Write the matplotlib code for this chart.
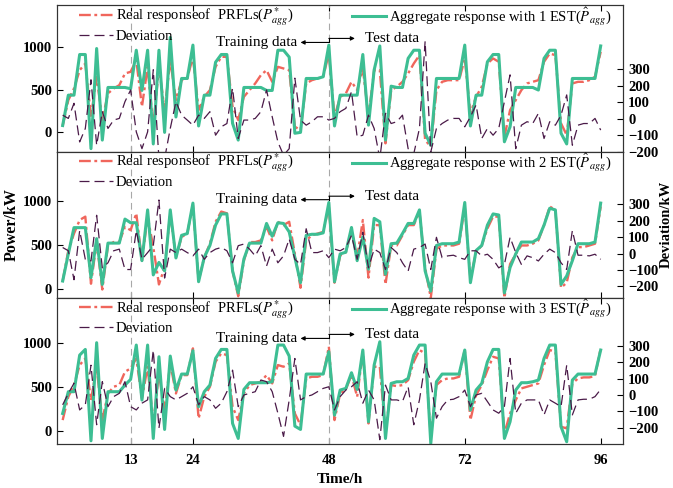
import numpy as np
import matplotlib
matplotlib.use('Agg')
from matplotlib import pyplot as plt

plt.rcParams['font.family'] = ['Liberation Serif', 'DejaVu Serif']
plt.rcParams['mathtext.fontset'] = 'stix'

hours = np.arange(1, 97)

# panel 1 (1 EST)
real1 = [80, 377, 513, 727, 805, 183, 650, 144, 455, 513, 552, 688, 708, 844, 300, 766, 66, 766, 260, 844, 377, 610, 630, 883,
         260, 416, 494, 766, 883, 883, 300, 144, 416, 494, 572, 669, 727, 591, 766, 747, 727, 66, 27, 572, 610, 630, 650, 922,
         183, 416, 455, 591, 494, 747, 183, 727, 727, -128, 494, 533, 591, 688, 805, 902, -89, -167, 494, 591, 610, 610, 610, 864,
         222, 416, 533, 805, 864, 825, -51, 260, 377, 494, 572, 591, 610, 825, 922, 902, 105, -31, 572, 591, 591, 610, 650, 941]
est1 = [80, 435, 435, 910, 910, -190, 980, -90, 525, 525, 525, 525, 510, 960, 490, 960, -135, 960, 0, 1110, 180, 630, 630, 1020,
        75, 435, 435, 820, 910, 910, 105, -90, 525, 525, 525, 525, 490, 490, 960, 960, 880, -10, 0, 630, 630, 630, 650, 1020,
        75, 435, 435, 435, 435, 910, 85, 730, 1010, -90, 540, 525, 525, 865, 960, 960, -10, -150, 630, 630, 630, 630, 630, 1020,
        75, 435, 435, 825, 910, 910, -110, 65, 525, 525, 525, 525, 495, 865, 960, 960, -10, -135, 630, 630, 630, 630, 630, 1010]
dev1 = [22, 2, 94, -141, -59, 237, -161, 43, -59, -8, 2, 104, 175, -80, -182, -80, 298, -243, -243, -59, 104, 22, -8, -39,
        22, 2, 43, -100, -49, -29, 186, -120, -8, -8, 2, 43, 175, 12, -141, -222, -182, 247, -8, -39, -18, 12, 12, -8,
        2, 43, 63, 165, -110, -100, 22, -59, -243, 33, -29, -18, 22, -182, -212, -59, 471, -202, -59, -29, -8, 2, 2, -49,
        12, 84, -120, -59, -100, -59, 104, 267, -182, -39, -18, -29, 33, -120, -18, -39, 22, 145, -161, -39, -29, -29, 2, -69]

# panel 2 (2 EST)
real2 = [89, 438, 632, 787, 826, 58, 535, -8, 496, 535, 535, 709, 671, 864, 322, 826, 477, 50, 244, 864, 360, 593, 632, 961,
         89, 360, 516, 767, 884, 864, 205, -85, 322, 535, 535, 554, 709, 554, 767, 729, 767, 399, 12, 554, 612, 632, 651, 942,
         70, 380, 419, 671, 360, 787, 128, 729, 729, 50, 496, 496, 612, 729, 729, 884, 244, -105, 457, 496, 496, 496, 516, 942,
         109, 419, 496, 690, 826, 826, -105, 283, 399, 496, 496, 516, 554, 729, 942, 903, 12, 70, 360, 477, 477, 496, 516, 942]
est2 = [89, 400, 700, 700, 700, 128, 574, 50, 523, 523, 523, 798, 756, 756, 322, 903, 159, 302, 205, 903, 353, 612, 632, 981,
        81, 360, 496, 729, 857, 857, 205, -47, 341, 523, 523, 523, 748, 601, 756, 748, 651, 360, 70, 612, 624, 624, 640, 988,
        81, 399, 419, 702, 322, 593, 225, 806, 767, 167, 516, 523, 632, 748, 748, 903, 205, -27, 496, 516, 516, 516, 535, 988,
        70, 438, 496, 729, 857, 845, -47, 244, 399, 535, 535, 535, 574, 729, 922, 903, 50, 147, 322, 516, 516, 516, 535, 981]
dev2 = [37, 17, -159, 140, -35, -45, 233, -87, -56, 17, 27, -97, -97, 140, -35, 6, 48, 326, -149, 27, 6, 27, 6, -14,
        27, -35, 6, 27, 37, 17, -56, 48, 58, 27, -14, 48, -76, 27, -56, -14, 89, -35, -66, 151, 6, 6, 17, -25,
        27, 17, 37, 110, -35, 130, -87, 27, 6, -97, 37, 6, -56, -107, 27, 37, 58, -97, 99, -25, -14, -10, -25, -35,
        17, 17, -14, -4, -35, -87, -66, 99, 6, -66, -14, -25, -45, -4, 27, 6, -56, -97, 140, -10, -10, -14, -4, -35]

# panel 3 (3 EST)
real3 = [122, 389, 523, 752, 828, 351, 733, 122, 427, 504, 523, 675, 714, 828, 370, 733, 84, 657, 237, 771, 427, 637, 637, 943,
         141, 389, 504, 790, 886, 866, 275, 122, 427, 523, 542, 561, 637, 542, 752, 733, 771, 198, 65, 599, 618, 618, 637, 962,
         122, 427, 473, 637, 389, 905, 84, 733, 733, -31, 523, 511, 523, 580, 790, 924, 886, -69, 523, 580, 599, 599, 618, 931,
         122, 408, 523, 695, 847, 828, -31, 198, 351, 485, 504, 523, 542, 752, 924, 905, 46, 27, 542, 599, 611, 611, 626, 943]
est3 = [198, 447, 447, 866, 931, -115, 1008, -88, 447, 447, 447, 523, 588, 981, 351, 981, -88, 847, 15, 855, 466, 649, 649, 916,
        275, 447, 523, 828, 931, 931, 84, -88, 473, 550, 550, 550, 550, 561, 981, 981, 855, 53, 15, 649, 649, 649, 649, 905,
        179, 466, 485, 664, 473, 924, 103, 752, 1019, -88, 542, 561, 561, 599, 866, 981, 981, -145, 561, 649, 649, 649, 649, 924,
        237, 466, 542, 790, 931, 931, -88, 103, 466, 550, 550, 561, 580, 828, 981, 981, 46, -126, 580, 649, 649, 649, 649, 924]
dev3 = [-60, 10, 71, -91, -60, 181, -181, 81, -71, -10, 10, 81, -71, -91, -50, -30, 272, -202, 40, -10, -30, -10, 10, 50,
        -60, -10, -30, -81, -50, 20, 151, -71, 0, 10, 20, 91, 81, 20, -111, -252, -30, 222, -30, -10, 0, 20, 40, 50,
        -91, -10, 30, 50, 81, -50, 30, -30, -272, 60, -30, -30, -40, 50, -181, -30, 192, 81, -141, -71, -30, -26, -10, 30,
        -71, 0, 10, -40, -91, -111, -71, 222, -111, -50, -30, -30, -30, -121, -30, -50, -71, 181, -121, -30, -26, -26, -10, 34]

n_est = [1, 2, 3]
xticks = [13, 24, 48, 72, 96]
power_ticks = [0, 500, 1000]
dev_ticks = [-200, -100, 0, 100, 200, 300]

GREEN = '#3DBE93'
RED = '#F0665C'
PURPLE = '#4A1A48'
GREY = '#A8A8A8'

panels = [
    (real1, est1, dev1, (-225, 1485), (-200, 690), (1051, 1098)),
    (real2, est2, dev2, (-105, 1570), (-270, 620), (1020, 1060)),
    (real3, est3, dev3, (-155, 1520), (-300, 590), (1057, 1103)),
]

fig = plt.figure(figsize=(6.73, 4.88), dpi=100)
left, width, h = 0.0847, 0.8415, 0.29986
bottoms = [0.68927, 0.38941, 0.08955]

for k, (real, est, dev, ylim, ylim2, (yL, yR)) in enumerate(panels):
    ax = fig.add_axes([left, bottoms[k], width, h])
    ax2 = ax.twinx()

    ax.axvline(13, color=GREY, lw=0.8, dashes=(6, 4))
    ax.axvline(48, color=GREY, lw=0.8, dashes=(6, 4))

    l_real, = ax.plot(hours, real, color=RED, lw=1.7, dashes=(5, 1.5, 1.2, 1.5))
    l_est, = ax.plot(hours, est, color=GREEN, lw=2.2)
    l_dev, = ax2.plot(hours, dev, color=PURPLE, lw=0.9, dashes=(8, 4))

    ax.set_xlim(0, 100)
    ax.set_ylim(*ylim)
    ax2.set_ylim(*ylim2)
    ax.set_xticks(xticks)
    ax.set_yticks(power_ticks)
    ax2.set_yticks(dev_ticks)
    ax.tick_params(direction='in', top=True, length=4, width=0.8, labelsize=10.5, pad=3.5)
    ax.tick_params(axis='x', pad=7)
    ax2.tick_params(direction='in', length=4, width=0.8, labelsize=10.5, pad=3.5)
    for lab in ax.get_yticklabels() + ax.get_xticklabels() + ax2.get_yticklabels():
        lab.set_fontweight('bold')
    if k < 2:
        ax.tick_params(axis='x', labelbottom=False)
    for a in (ax, ax2):
        for s in a.spines.values():
            s.set_linewidth(0.8)
            s.set_color('#333333')

    # training / test split marker
    arrow = dict(arrowstyle='-|>', color='k', lw=0.8, mutation_scale=6, shrinkA=0, shrinkB=0)
    ax.annotate('', xy=(43.0, yL), xytext=(48, yL), arrowprops=arrow)
    ax.annotate('', xy=(52.6, yR), xytext=(48, yR), arrowprops=arrow)
    ax.plot([48, 48], [yL, yR], color='k', lw=0.8)
    ax.text(42.4, yL, 'Training data', ha='right', va='center', fontsize=11)
    ax.text(54.4, yR, 'Test data', ha='left', va='center', fontsize=11)

    leg1 = ax2.legend([l_real, l_dev], ['Real responseof  PRFLs($P^{*}_{agg}$)', 'Deviation'],
                      loc='upper left', bbox_to_anchor=(0.039, 1.0), frameon=False, fontsize=10.5,
                      borderpad=0, borderaxespad=0, handlelength=2.3, handletextpad=0.2, labelspacing=0.1)
    ax2.add_artist(leg1)
    ax2.legend([l_est], ['Aggregate response with %d EST($\\hat{P}_{agg}$)' % n_est[k]],
               loc='upper left', bbox_to_anchor=(0.521, 1.0), frameon=False, fontsize=10.5,
               borderpad=0, borderaxespad=0, handlelength=2.3, handletextpad=0.2)

fig.text(0.018, 0.5393, 'Power/kW', rotation=90, fontweight='bold', fontsize=11.5, ha='center', va='center')
fig.text(0.9895, 0.5393, 'Deviation/kW', rotation=90, fontweight='bold', fontsize=10.5, ha='center', va='center')
fig.text(0.505, 0.0184, 'Time/h', fontweight='bold', fontsize=11, ha='center', va='center')

fig.savefig('out.png', dpi=100)
